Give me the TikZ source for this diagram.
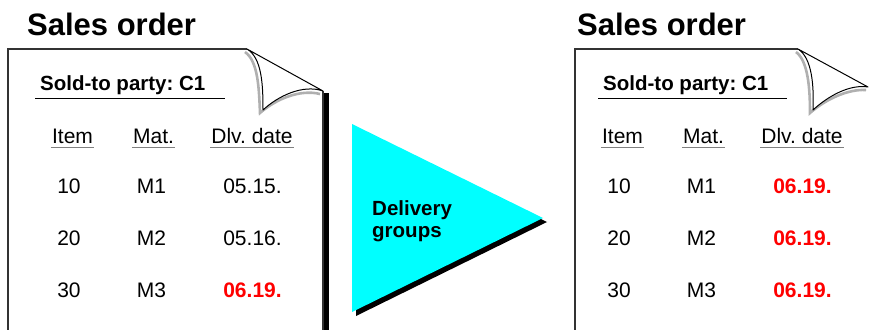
\documentclass[tikz,border=0pt]{standalone}
\usepackage{fontspec}
\setmainfont{Liberation Sans}
\frenchspacing
\definecolor{cyanfill}{HTML}{00FFFF}
\definecolor{pageline}{HTML}{333333}
\definecolor{curlshadow}{HTML}{B0B0B0}
\tikzset{
  title/.style={anchor=base west, inner sep=0pt, font=\fontsize{31}{36}\selectfont\bfseries},
  party/.style={anchor=base west, inner sep=0pt, font=\fontsize{20.5}{24}\selectfont\bfseries},
  head/.style={anchor=base, inner sep=0pt, font=\fontsize{21}{24}\selectfont},
  cell/.style={anchor=base, inner sep=0pt, font=\fontsize{21}{24}\selectfont},
  redcell/.style={anchor=base, inner sep=0pt, font=\fontsize{21}{24}\selectfont\bfseries, text=red},
  tritext/.style={anchor=base west, inner sep=0pt, font=\fontsize{20.5}{24}\selectfont\bfseries},
  pageedge/.style={draw=pageline, line width=1.4pt},
  headline/.style={draw=gray, line width=1.3pt},
  curlline/.style={draw=black, line width=1pt, fill=white, line join=round},
  curlshade/.style={draw=curlshadow, line width=2.6pt},
}
\begin{document}
\begin{tikzpicture}[x=1pt, y=-1pt]
\useasboundingbox (0,0) rectangle (869,329);

% ---------- left page ----------
\fill[black] (323.5,93) rectangle (328.5,340);
\draw[pageedge] (8,340) -- (8,49) -- (247,49);
\draw[pageedge] (323,91) -- (323,340);
\draw[curlshade] (245,52) .. controls (258,61) and (259,88) .. (260,113) .. controls (276,99) and (300,89) .. (320,94);
\draw[curlline] (247,49) .. controls (262,58) and (263,85) .. (263,110) .. controls (278,96) and (303,84) .. (323,91) -- cycle;

\node[title] (t1) at (27,36) {Sales order};
\node[party] (p1) at (40,90) {Sold-to party: C1};
\coordinate (u1a) at (35,98);
\coordinate (u1b) at (225,98);
\draw[line width=1pt] (u1a) -- (u1b);

\node[head] (h1a) at (72.5,143) {Item};
\node[head] (h1b) at (153.5,143) {Mat.};
\node[head] (h1c) at (252,143) {Dlv. date};
\foreach \n in {h1a,h1b,h1c}
  \draw[headline] ([xshift=-1pt,yshift=-4pt]\n.south west) -- ([xshift=1pt,yshift=-4pt]\n.south east);

\node[cell] (a10) at (69,193) {10};
\node[cell] (am1) at (151.5,193) {M1};
\node[cell] (ad1) at (252.5,193) {05.15.};
\node[cell] (a20) at (69,245) {20};
\node[cell] (am2) at (151.5,245) {M2};
\node[cell] (ad2) at (252.5,245) {05.16.};
\node[cell] (a30) at (69,297) {30};
\node[cell] (am3) at (151.5,297) {M3};
\node[redcell] (ad3) at (252.5,297) {06.19.};

% ---------- triangle ----------
\fill[black] (356,128) -- (547,222) -- (356,316) -- cycle;
\fill[cyanfill] (352,124) -- (543,218) -- (352,312) -- cycle;
\node[tritext] (dg1) at (372,215) {Delivery};
\node[tritext] (dg2) at (372,237) {groups};

% ---------- right page ----------
\draw[pageedge] (575,340) -- (575,49) -- (798,49);
\draw[curlshade] (796,52) .. controls (808,61) and (810,88) .. (810,113) .. controls (826,99) and (848,89) .. (866,90);
\draw[curlline] (798,49) .. controls (812,58) and (814,85) .. (813,110) .. controls (828,96) and (850,84) .. (868,87) -- cycle;

\node[title] (t2) at (577,36) {Sales order};
\node[party] (p2) at (603,90) {Sold-to party: C1};
\coordinate (u2a) at (598,98);
\coordinate (u2b) at (787,98);
\draw[line width=1pt] (u2a) -- (u2b);

\node[head] (h2a) at (622.5,143) {Item};
\node[head] (h2b) at (703.5,143) {Mat.};
\node[head] (h2c) at (802,143) {Dlv. date};
\foreach \n in {h2a,h2b,h2c}
  \draw[headline] ([xshift=-1pt,yshift=-4pt]\n.south west) -- ([xshift=1pt,yshift=-4pt]\n.south east);

\node[cell] (b10) at (619,193) {10};
\node[cell] (bm1) at (701.5,193) {M1};
\node[redcell] (bd1) at (802.5,193) {06.19.};
\node[cell] (b20) at (619,245) {20};
\node[cell] (bm2) at (701.5,245) {M2};
\node[redcell] (bd2) at (802.5,245) {06.19.};
\node[cell] (b30) at (619,297) {30};
\node[cell] (bm3) at (701.5,297) {M3};
\node[redcell] (bd3) at (802.5,297) {06.19.};
\end{tikzpicture}
\end{document}
